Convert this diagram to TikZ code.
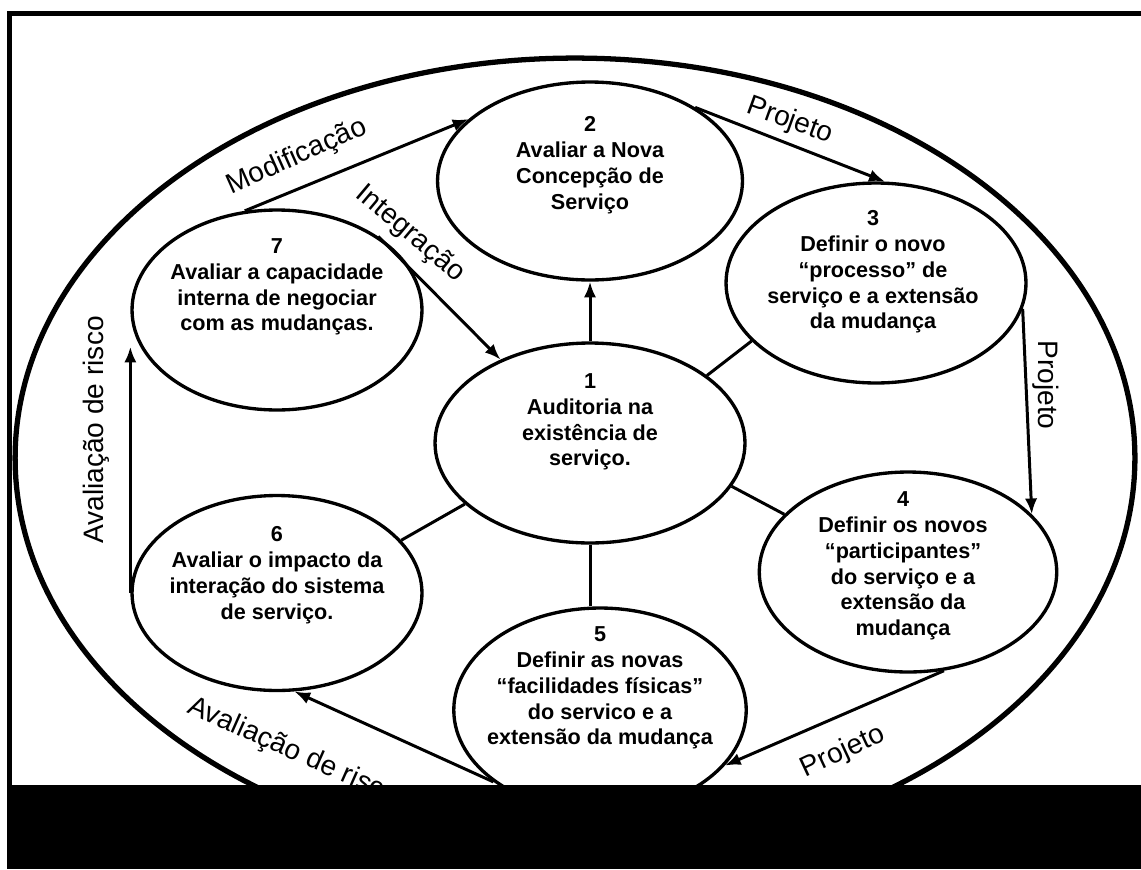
\documentclass[tikz,border=0pt]{standalone}
\usepackage{fontspec}
\setmainfont{Liberation Sans}
\usetikzlibrary{shapes, arrows, arrows.meta, calc}
\tikzstyle{etapa}=[ellipse, draw, line width=1.9pt, inner sep=0pt,
    minimum width=5.8cm, minimum height=4cm]
\tikzstyle{txt}=[font=\bfseries\fontsize{12.3}{14.7}\selectfont, align=center]
\tikzstyle{rot}=[font=\fontsize{16}{18}\selectfont, inner sep=0pt]
\tikzstyle{seta}=[line width=1.7pt, -{Latex[length=9pt,width=7pt]}]
\tikzstyle{liga}=[line width=1.7pt]

\begin{document}
\begin{tikzpicture}[x=0.02cm, y=-0.02cm]
    \useasboundingbox (0,0) rectangle (1141,869);
    \fill[white] (0,0) rectangle (1141,869);
    \node (borda) [ellipse, draw, line width=3pt, minimum width=22.4cm,
        minimum height=16cm] at (575,458) {};
    % etapas
    \node (n1) [etapa, minimum width=6.2cm] at (590,443) {};
    \node (n2) [etapa, minimum width=6.1cm, minimum height=3.96cm] at (590,181) {};
    \node (n3) [etapa, minimum width=6cm] at (876,283) {};
    \node (n4) [etapa, minimum width=5.95cm] at (908,572) {};
    \node (n5) [etapa, minimum width=5.85cm, minimum height=4.08cm] at (600,710) {};
    \node (n6) [etapa, minimum height=3.9cm] at (277,593) {};
    \node (n7) [etapa] at (277,310) {};
    \node (t1) [txt] at (590,422) {1\\Auditoria na\\existência de\\serviço.};
    \node (t2) [txt] at (590,165) {2\\Avaliar a Nova\\Concepção de\\Serviço};
    \node (t3) [txt] at (873,272) {3\\Definir o novo\\“processo” de\\serviço e a extensão\\da mudança};
    \node (t4) [txt] at (903,566) {4\\Definir os novos\\“participantes”\\do serviço e a\\extensão da\\mudança};
    \node (t5) [txt] at (600,688) {5\\Definir as novas\\“facilidades físicas”\\do servico e a\\extensão da mudança};
    \node (t6) [txt] at (277,575) {6\\Avaliar o impacto da\\interação do sistema\\de serviço.};
    \node (t7) [txt] at (277,287) {7\\Avaliar a capacidade\\interna de negociar\\com as mudanças.};
    % ligacoes
    \draw [seta] (n1.north) -- (n1.north |- n2.south);
    \draw [liga] (n1.30) -- (n3.205);
    \draw [liga] (n1.-17) -- (n4.155);
    \draw [liga] (n1.south) -- (n1.south |- n5.north);
    \draw [liga] (n1.206) -- (n6.23);
    \draw [seta] (n7.108) -- (n2.153);
    \draw [seta] (n7.36) -- (n1.137);
    \draw [seta] (n6.west) -- (n6.west |- n7.195);
    \draw [seta] (n5.214) -- (n6.-80);
    \draw [seta] (n2.35) -- (n3.85);
    \draw [seta] (n3.-10) -- (n4.25);
    \draw [seta] (n4.-70) -- (n5.-24);
    % rotulos
    \node (modif) [rot, rotate=24] at (297,157) {Modificação};
    \node (integ) [rot, rotate=-40] at (410,234) {Integração};
    \node (proj1) [rot, rotate=-20] at (790,121) {Projeto};
    \node (proj2) [rot, rotate=-90] at (1046,385) {Projeto};
    \node (proj3) [rot, rotate=25] at (843,752) {Projeto};
    \node (risco1) [rot, rotate=90] at (96,430) {Avaliação de risco};
    \node (risco2) [rot, rotate=-24] at (293,752) {Avaliação de risco};
    % moldura
    \fill (7,785) rectangle (1141,869);
    \fill (7,11) rectangle (12,869);
    \fill (7,11) rectangle (1141,16);
\end{tikzpicture}
\end{document}
